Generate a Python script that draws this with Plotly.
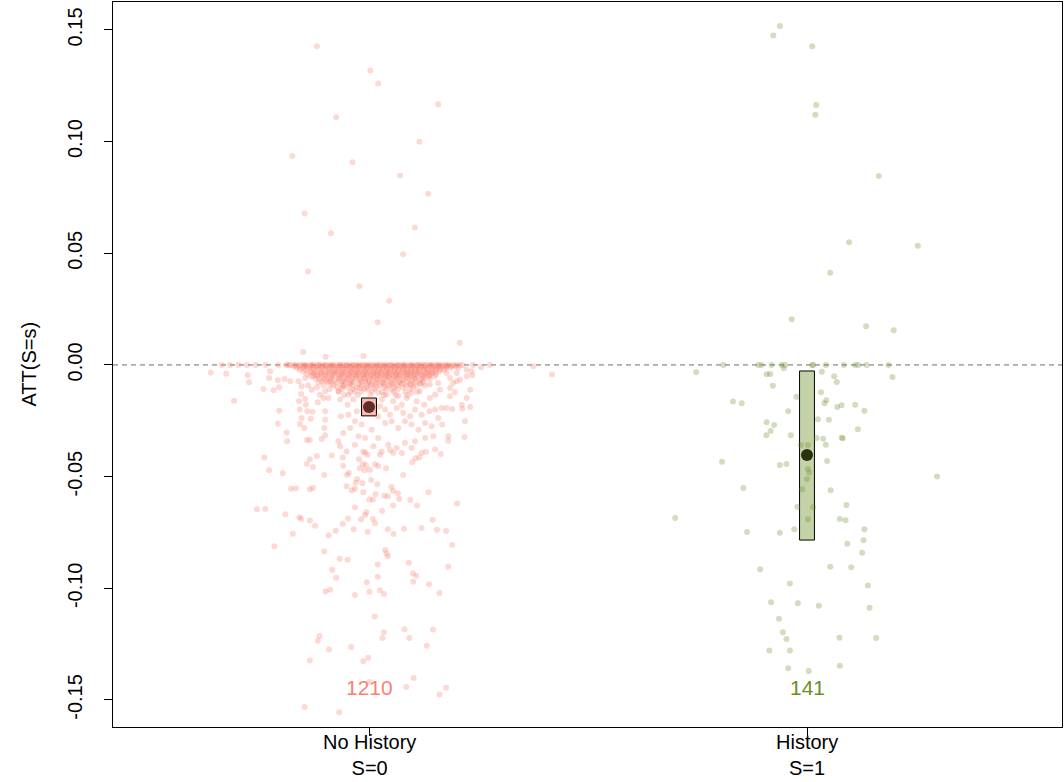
import plotly.graph_objects as go

# ---- data -------------------------------------------------------------
categories = ["No History<br>S=0", "History<br>S=1"]
group_pos = [1, 2]
counts = [1210, 141]
att_mean = [-0.0188, -0.0403]
ci_low = [-0.0228, -0.0784]
ci_high = [-0.0148, -0.0027]
yticks = [-0.15, -0.10, -0.05, 0.00, 0.05, 0.10, 0.15]
ytick_labels = ["-0.15", "-0.10", "-0.05", "0.00", "0.05", "0.10", "0.15"]

# No History (S=0): individual estimates as (ATT, horizontal jitter)
no_hist_points = [
    (0.1427, -0.119), (0.1318, 0.003), (0.1260, 0.021), (0.1167, 0.158), (0.1109, -0.075),
    (0.0999, 0.115), (0.0936, -0.175), (0.0908, -0.038), (0.0848, 0.071), (0.0767, 0.135),
    (0.0678, -0.147), (0.0615, 0.105), (0.0590, -0.087), (0.0496, 0.078), (0.0418, -0.139),
    (0.0352, -0.022), (0.0287, 0.046), (0.0191, 0.020), (0.0099, 0.207), (0.0058, -0.150),
    (0.0037, -0.099), (0.0040, -0.013),
    (0.0, -0.336), (0.0, -0.317), (0.0, -0.298), (0.0, -0.279), (0.0, -0.259), (0.0, -0.236),
    (0.0, -0.207), (0.0, -0.184), (0.0, 0.237), (-0.0010, 0.256), (0.0, 0.276), (-0.0006, 0.375),
    (-0.0039, -0.326), (-0.0046, -0.277), (-0.0078, -0.274), (-0.0028, -0.226), (-0.0058, -0.228),
    (-0.0069, -0.208), (-0.0063, -0.193), (-0.0073, -0.180), (-0.0108, -0.241), (-0.0113, -0.218),
    (-0.0100, -0.205), (-0.0160, -0.308), (-0.0205, -0.205), (-0.0263, -0.208), (-0.0303, -0.188),
    (-0.0342, -0.187), (-0.0163, -0.160), (-0.0200, -0.158), (-0.0152, -0.146), (-0.0178, -0.144),
    (-0.0207, -0.141), (-0.0237, -0.154), (-0.0264, -0.158), (-0.0282, -0.148), (-0.0241, -0.133),
    (-0.0210, -0.129), (-0.0167, -0.117), (-0.0148, -0.104), (-0.0207, -0.100), (-0.0245, -0.100),
    (-0.0282, -0.102), (-0.0332, -0.108), (-0.0315, -0.100), (-0.0336, -0.142), (-0.0336, -0.135),
    (-0.0408, -0.119), (-0.0405, -0.085), (-0.0414, -0.239), (-0.0073, -0.161), (-0.0095, -0.154),
    (-0.0130, -0.155), (-0.0091, -0.139), (-0.0111, -0.131), (-0.0100, -0.119), (-0.0133, -0.112),
    (-0.0118, -0.100), (-0.0148, -0.093), (-0.0058, -0.146), (-0.0051, -0.127), (-0.0073, -0.108),
    (-0.0073, -0.089),
    (-0.0118, -0.070), (-0.0155, -0.066), (-0.0133, -0.047), (-0.0178, -0.049), (-0.0155, -0.036),
    (-0.0118, -0.032), (-0.0103, -0.021), (-0.0125, 0.021), (-0.0155, 0.029), (-0.0133, 0.040),
    (-0.0111, 0.052), (-0.0163, 0.055), (-0.0140, 0.067), (-0.0178, 0.075), (-0.0148, 0.086),
    (-0.0125, 0.097), (-0.0163, 0.109), (-0.0118, 0.116), (-0.0178, 0.126), (-0.0148, 0.139),
    (-0.0133, 0.151), (-0.0111, 0.162), (-0.0193, 0.166), (-0.0200, 0.151), (-0.0207, 0.138),
    (-0.0223, 0.120), (-0.0200, 0.105), (-0.0230, 0.094), (-0.0215, 0.078), (-0.0193, 0.063),
    (-0.0223, 0.048), (-0.0200, 0.037), (-0.0185, 0.025), (-0.0230, 0.021), (-0.0230, -0.064),
    (-0.0223, -0.047), (-0.0207, -0.028), (-0.0252, -0.032), (-0.0267, -0.017), (-0.0282, -0.043),
    (-0.0305, -0.059), (-0.0342, -0.070), (-0.0319, -0.024), (-0.0327, -0.009), (-0.0290, 0.006),
    (-0.0327, 0.021), (-0.0260, 0.037), (-0.0252, 0.052), (-0.0282, 0.067), (-0.0252, 0.082),
    (-0.0267, 0.097), (-0.0290, 0.113), (-0.0260, 0.128), (-0.0275, 0.143), (-0.0237, 0.158),
    (-0.0267, 0.167), (-0.0319, 0.147), (-0.0327, 0.128), (-0.0342, 0.105), (-0.0349, 0.082),
    (-0.0372, 0.063), (-0.0357, 0.044), (-0.0387, 0.029), (-0.0364, 0.010), (-0.0387, -0.013),
    (-0.0357, -0.032), (-0.0387, -0.051), (-0.0364, -0.066), (-0.0394, 0.075), (-0.0394, 0.120),
    (-0.0379, 0.151), (-0.0372, 0.097), (-0.0073, -0.062), (-0.0081, -0.043), (-0.0073, -0.009),
    (-0.0088, 0.006), (-0.0081, 0.029), (-0.0088, 0.048), (-0.0081, 0.071), (-0.0088, 0.094),
    (-0.0081, 0.116), (-0.0088, 0.139), (-0.0081, 0.158), (-0.0111, -0.002), (-0.0095, -0.059),
    (-0.0036, 0.177), (-0.0058, 0.185), (-0.0036, 0.200), (-0.0013, 0.204), (-0.0021, 0.223),
    (-0.0028, 0.234), (-0.0051, 0.223), (-0.0046, 0.236), (-0.0066, 0.208), (-0.0073, 0.200),
    (-0.0081, 0.192), (-0.0103, 0.185), (-0.0122, 0.196), (-0.0111, 0.231), (-0.0140, 0.185),
    (-0.0148, 0.223), (-0.0178, 0.212), (-0.0196, 0.213), (-0.0188, 0.231), (-0.0193, 0.177),
    (-0.0197, 0.190), (-0.0252, 0.219), (-0.0319, 0.181), (-0.0339, 0.181), (-0.0323, 0.218),
    (-0.0043, 0.418), (-0.0034, -0.361),
    (-0.0472, -0.228), (-0.0485, -0.197), (-0.0554, -0.178), (-0.0552, -0.167), (-0.0556, -0.135),
    (-0.0551, -0.128), (-0.0646, -0.256), (-0.0645, -0.237), (-0.0669, -0.191), (-0.0682, -0.159),
    (-0.0690, -0.155), (-0.0696, -0.135), (-0.0720, -0.123), (-0.0756, -0.174), (-0.0812, -0.216),
    (-0.0444, -0.142), (-0.0422, -0.135), (-0.0457, -0.128), (-0.0493, -0.102), (-0.0763, -0.092),
    (-0.0742, -0.076), (-0.0711, -0.060), (-0.0687, -0.048), (-0.0736, -0.035), (-0.0638, -0.032),
    (-0.0691, -0.018), (-0.0672, -0.009), (-0.0659, -0.006), (-0.0747, -0.003), (-0.0690, 0.009),
    (-0.0709, 0.014), (-0.0653, 0.030), (-0.0736, 0.043), (-0.0757, 0.056), (-0.0733, 0.080),
    (-0.0730, 0.120), (-0.0693, 0.145), (-0.0738, 0.155), (-0.0744, 0.176), (-0.0806, 0.190),
    (-0.0620, 0.201), (-0.0835, -0.102), (-0.0868, -0.067), (-0.0872, -0.049), (-0.0917, -0.084),
    (-0.0953, -0.075), (-0.0973, -0.005), (-0.0893, 0.020), (-0.0948, 0.020), (-0.0829, 0.037),
    (-0.0844, 0.040), (-0.0856, 0.043), (-0.0886, 0.091), (-0.0933, 0.100), (-0.0944, 0.108),
    (-0.0971, 0.101), (-0.0982, 0.137), (-0.0904, 0.181), (-0.0414, -0.060), (-0.0451, -0.059),
    (-0.0493, -0.050), (-0.0483, -0.046), (-0.0543, -0.051), (-0.0561, -0.039), (-0.0554, -0.032),
    (-0.0527, -0.030), (-0.0511, -0.027), (-0.0530, -0.015), (-0.0570, -0.013), (-0.0422, -0.023),
    (-0.0463, -0.021), (-0.0444, -0.014), (-0.0472, -0.010), (-0.0449, -0.007), (-0.0469, 0.002),
    (-0.0515, 0.005), (-0.0445, 0.014), (-0.0452, 0.021), (-0.0534, 0.019), (-0.0579, 0.015),
    (-0.0602, 0.001), (-0.0603, 0.009), (-0.0393, -0.009), (-0.0402, -0.003), (-0.0402, 0.025),
    (-0.0463, 0.039), (-0.0586, 0.035), (-0.0588, 0.043), (-0.0547, 0.051), (-0.0564, 0.055),
    (-0.0575, 0.066), (-0.0600, 0.069), (-0.0629, 0.055), (-0.0493, 0.078), (-0.0605, 0.094),
    (-0.0629, 0.110), (-0.0436, 0.099), (-0.0418, 0.106), (-0.0414, 0.115), (-0.0390, 0.130),
    (-0.0399, 0.164), (-0.0570, 0.136), (-0.0393, 0.055), (-0.0381, 0.048),
    (-0.1014, -0.099), (-0.1007, -0.089), (-0.1030, -0.032), (-0.1016, 0.001), (-0.1009, 0.025),
    (-0.1026, 0.034), (-0.1021, 0.161), (-0.1126, 0.013), (-0.1214, -0.113), (-0.1235, -0.117),
    (-0.1274, -0.091), (-0.1263, -0.041), (-0.1197, 0.034), (-0.1222, 0.031), (-0.1183, 0.081),
    (-0.1223, 0.092), (-0.1184, 0.146), (-0.1257, 0.132), (-0.1323, -0.135), (-0.1327, -0.013),
    (-0.1311, -0.002), (-0.1419, 0.002), (-0.1402, 0.102), (-0.1442, 0.085), (-0.1445, 0.176),
    (-0.1475, 0.161), (-0.1532, -0.147), (-0.1555, -0.068),
]

# No History (S=0): the crowded estimates just at or below zero, one list per ATT level
no_hist_band_att = [0.0, -0.0003, -0.0006, -0.0013, -0.0021, -0.0030, -0.0035, -0.0040,
                    -0.0046, -0.0051, -0.0058, -0.0063, -0.0070, -0.0077, -0.0085, -0.0092,
                    -0.0100, -0.0108, -0.0120, -0.0135]
no_hist_band_jitter = [
    [-0.189, -0.181, -0.172, -0.166, -0.157, -0.150, -0.143, -0.133, -0.127, -0.118, -0.112, -0.104,
     -0.097, -0.088, -0.083, -0.074, -0.066, -0.060, -0.051, -0.045, -0.036, -0.029, -0.020, -0.014,
     -0.005, 0.001, 0.010, 0.017, 0.025, 0.031, 0.040, 0.047, 0.054, 0.063, 0.069, 0.078, 0.084,
     0.093, 0.099, 0.108, 0.115, 0.121, 0.130, 0.137, 0.144, 0.153, 0.158, 0.167, 0.174, 0.182,
     0.191, 0.199, 0.207, 0.214],
    [-0.146, -0.131, -0.113, -0.099, -0.082, -0.066, -0.053, -0.037, -0.024, -0.009, 0.005, 0.021,
     0.036, 0.050, 0.066, 0.080, 0.096, 0.111, 0.126, 0.142, 0.160, 0.178],
    [-0.171, -0.160, -0.149, -0.139, -0.128, -0.119, -0.107, -0.098, -0.089, -0.079, -0.069, -0.058,
     -0.050, -0.040, -0.031, -0.022, -0.011, -0.003, 0.007, 0.016, 0.027, 0.035, 0.044, 0.055, 0.064,
     0.073, 0.082, 0.092, 0.101, 0.111, 0.120, 0.129, 0.140, 0.148, 0.157, 0.168, 0.177, 0.188, 0.197],
    [-0.165, -0.152, -0.141, -0.129, -0.117, -0.106, -0.093, -0.084, -0.072, -0.062, -0.053, -0.041,
     -0.033, -0.024, -0.013, -0.004, 0.005, 0.014, 0.024, 0.033, 0.041, 0.052, 0.060, 0.070, 0.079,
     0.088, 0.098, 0.107, 0.117, 0.126, 0.135, 0.146, 0.155, 0.164, 0.176, 0.186],
    [-0.158, -0.144, -0.131, -0.118, -0.104, -0.092, -0.080, -0.070, -0.059, -0.047, -0.038, -0.027,
     -0.017, -0.008, 0.002, 0.012, 0.021, 0.030, 0.041, 0.049, 0.058, 0.068, 0.077, 0.086, 0.096,
     0.105, 0.114, 0.125, 0.133, 0.143, 0.153, 0.163, 0.172],
    [-0.150, -0.134, -0.121, -0.108, -0.095, -0.084, -0.073, -0.063, -0.052, -0.043, -0.031, -0.021,
     -0.011, -0.001, 0.009, 0.019, 0.028, 0.038, 0.047, 0.057, 0.066, 0.076, 0.087, 0.097, 0.106,
     0.116, 0.127, 0.138, 0.149, 0.160],
    [-0.128, -0.109, -0.091, -0.077, -0.058, -0.039, -0.026, -0.007, 0.013, 0.026, 0.043, 0.062,
     0.081, 0.092, 0.111, 0.132, 0.145],
    [-0.141, -0.125, -0.110, -0.097, -0.083, -0.071, -0.060, -0.048, -0.036, -0.025, -0.015, -0.004,
     0.007, 0.018, 0.029, 0.040, 0.050, 0.061, 0.072, 0.084, 0.095, 0.105, 0.117, 0.129, 0.141, 0.153],
    [-0.119, -0.101, -0.080, -0.063, -0.045, -0.030, -0.012, 0.003, 0.019, 0.038, 0.054, 0.069,
     0.088, 0.102, 0.121, 0.136],
    [-0.133, -0.116, -0.099, -0.085, -0.068, -0.055, -0.041, -0.028, -0.016, -0.003, 0.010, 0.022,
     0.035, 0.046, 0.059, 0.071, 0.083, 0.096, 0.110, 0.124, 0.137, 0.150],
    [-0.111, -0.090, -0.067, -0.048, -0.030, -0.011, 0.009, 0.027, 0.045, 0.064, 0.086, 0.104, 0.127],
    [-0.122, -0.103, -0.086, -0.069, -0.052, -0.037, -0.022, -0.008, 0.006, 0.020, 0.034, 0.049,
     0.063, 0.077, 0.092, 0.107, 0.122, 0.139],
    [-0.098, -0.078, -0.057, -0.041, -0.020, 0.000, 0.019, 0.040, 0.058, 0.077, 0.098, 0.117],
    [-0.115, -0.094, -0.074, -0.054, -0.036, -0.018, 0.000, 0.016, 0.033, 0.052, 0.069, 0.087, 0.105, 0.124],
    [-0.086, -0.063, -0.044, -0.024, -0.005, 0.014, 0.034, 0.055, 0.075, 0.096, 0.118],
    [-0.104, -0.081, -0.058, -0.038, -0.016, 0.004, 0.025, 0.044, 0.064, 0.085, 0.107, 0.128],
    [-0.073, -0.049, -0.027, -0.006, 0.017, 0.036, 0.057, 0.078, 0.101],
    [-0.090, -0.062, -0.037, -0.011, 0.013, 0.040, 0.066, 0.094],
    [-0.069, -0.043, -0.018, 0.007, 0.030, 0.057, 0.083, 0.110],
    [-0.057, -0.026, 0.003, 0.034, 0.061, 0.088],
]

# History (S=1): individual estimates as (ATT, horizontal jitter)
hist_points = [
    (0.1518, -0.062), (0.1475, -0.077), (0.1427, 0.012), (0.1164, 0.021), (0.1120, 0.019),
    (0.0846, 0.164), (0.0549, 0.096), (0.0534, 0.253), (0.0413, 0.053), (0.0205, -0.035),
    (0.0173, 0.135), (0.0155, 0.198),
    (0.0, -0.191), (0.0, -0.111), (0.0, -0.081), (0.0, -0.058), (0.0, -0.050), (0.0, 0.014),
    (0.0, 0.043), (0.0, 0.084), (0.0, 0.110), (0.0, 0.117), (0.0, 0.136), (0.0, 0.186),
    (0.0, -0.104), (0.0, 0.012),
    (-0.0033, -0.253), (-0.0042, -0.092), (-0.0040, -0.084), (-0.0015, -0.053), (-0.0030, 0.034),
    (-0.0051, 0.062), (-0.0076, 0.068), (-0.0054, 0.195), (-0.0093, -0.078), (-0.0122, 0.032),
    (-0.0142, -0.024), (-0.0164, -0.169), (-0.0172, -0.149), (-0.0158, 0.044), (-0.0172, 0.040),
    (-0.0188, 0.069), (-0.0180, 0.079), (-0.0178, 0.110), (-0.0205, 0.131), (-0.0207, -0.043),
    (-0.0243, 0.025), (-0.0245, 0.050), (-0.0257, -0.092), (-0.0269, -0.075), (-0.0296, -0.083),
    (-0.0315, -0.093), (-0.0315, -0.037), (-0.0288, 0.116), (-0.0327, 0.022), (-0.0330, 0.037),
    (-0.0326, 0.079), (-0.0328, 0.082), (-0.0358, -0.014), (-0.0358, 0.002), (-0.0357, 0.043),
    (-0.0433, -0.194), (-0.0448, -0.062), (-0.0443, -0.047), (-0.0430, 0.046), (-0.0466, 0.002),
    (-0.0481, 0.005), (-0.0511, 0.000), (-0.0500, 0.297), (-0.0551, -0.145), (-0.0557, -0.011),
    (-0.0561, 0.054), (-0.0636, -0.022), (-0.0637, 0.014), (-0.0627, 0.090), (-0.0685, -0.301),
    (-0.0690, 0.075), (-0.0695, 0.088), (-0.0691, 0.002), (-0.0748, -0.137), (-0.0751, -0.062),
    (-0.0736, -0.029), (-0.0736, 0.131), (-0.0785, 0.129), (-0.0800, 0.092), (-0.0841, 0.126),
    (-0.0915, -0.107), (-0.0903, 0.053), (-0.0906, 0.101), (-0.0978, -0.039), (-0.0987, 0.139),
    (-0.1063, -0.082), (-0.1067, -0.021), (-0.1078, 0.027), (-0.1087, 0.143), (-0.1136, -0.064),
    (-0.1197, -0.055), (-0.1227, -0.047), (-0.1221, 0.074), (-0.1223, 0.158), (-0.1279, -0.086),
    (-0.1279, -0.039), (-0.1358, -0.043), (-0.1370, 0.004), (-0.1347, 0.075),
]

# ---- styling ----------------------------------------------------------
salmon = "250,128,114"
olive = "107,142,35"
group_rgb = [salmon, olive]
mean_colors = ["#5E2E29", "#26330E"]
box_fill = ["rgba(250,128,114,0.55)", "rgba(107,142,35,0.40)"]
box_half_width = 0.017
font_family = "Liberation Sans, Arial, Helvetica, sans-serif"

# ---- assemble point clouds -------------------------------------------
x0, y0 = [], []
for att, jit in no_hist_points:
    x0.append(group_pos[0] + jit)
    y0.append(att)
for att, row in zip(no_hist_band_att, no_hist_band_jitter):
    for jit in row:
        x0.append(group_pos[0] + jit)
        y0.append(att)

x1 = [group_pos[1] + jit for att, jit in hist_points]
y1 = [att for att, jit in hist_points]

fig = go.Figure()

for xs, ys, rgb in [(x0, y0, group_rgb[0]), (x1, y1, group_rgb[1])]:
    fig.add_trace(go.Scatter(
        x=xs, y=ys, mode="markers",
        marker=dict(size=6, color=f"rgba({rgb},0.30)", line=dict(width=0)),
        hoverinfo="skip", showlegend=False,
    ))

# confidence boxes around each group mean
for pos, lo, hi, fill in zip(group_pos, ci_low, ci_high, box_fill):
    fig.add_shape(type="rect", xref="x", yref="y",
                  x0=pos - box_half_width, x1=pos + box_half_width, y0=lo, y1=hi,
                  fillcolor=fill, line=dict(color="black", width=1), layer="below")

# group means
fig.add_trace(go.Scatter(
    x=group_pos, y=att_mean, mode="markers",
    marker=dict(size=12, color=mean_colors, line=dict(width=0)),
    hoverinfo="skip", showlegend=False,
))

# zero reference line
fig.add_shape(type="line", xref="paper", yref="y", x0=0, x1=1, y0=0, y1=0,
              line=dict(color="rgb(110,110,110)", width=1, dash="5px,4px"), layer="below")

# sample sizes
for pos, n, rgb in zip(group_pos, counts, group_rgb):
    fig.add_annotation(x=pos, y=-0.1446, xref="x", yref="y", text=str(n), showarrow=False,
                       font=dict(size=21, color=f"rgb({rgb})", family=font_family))

# category labels under the axis
for pos, label in zip(group_pos, categories):
    fig.add_annotation(x=pos, y=0, xref="x", yref="paper", text=label, showarrow=False,
                       xanchor="center", yanchor="top", yshift=-2,
                       font=dict(size=20, color="black", family=font_family))

# y-axis title
fig.add_annotation(x=0, y=0.5, xref="paper", yref="paper", xshift=-85, text="ATT(S=s)",
                   textangle=-90, showarrow=False, xanchor="center", yanchor="middle",
                   font=dict(size=20, color="black", family=font_family))

axis_common = dict(showgrid=False, zeroline=False, showline=True, linecolor="black",
                   linewidth=1, mirror=True, ticks="outside", ticklen=8, tickcolor="black",
                   tickwidth=1, automargin=False,
                   tickfont=dict(size=20, color="black", family=font_family))

fig.update_layout(
    width=1064, height=782,
    margin=dict(l=113, r=2, t=2, b=55),
    paper_bgcolor="white", plot_bgcolor="white",
    xaxis=dict(range=[0.4155, 2.5822], tickvals=group_pos, showticklabels=False, **axis_common),
    yaxis=dict(range=[-0.1621, 0.1625], tickvals=yticks, ticktext=ytick_labels,
               tickangle=-90, ticklabelstandoff=14, **axis_common),
)

fig.write_html("out.html")
